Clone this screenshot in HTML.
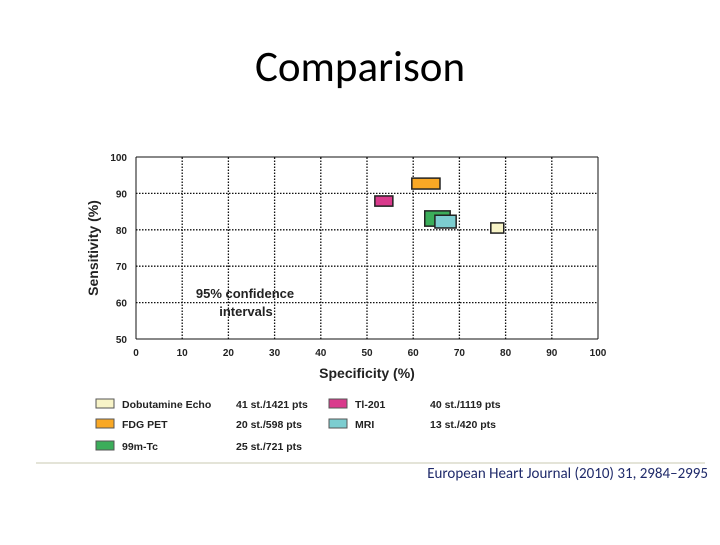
<!DOCTYPE html>
<html><head><meta charset="utf-8"><style>
body{margin:0;background:#fff;width:720px;height:540px;overflow:hidden;font-family:"Liberation Sans",sans-serif}
</style></head><body>
<svg width="720" height="540" xmlns="http://www.w3.org/2000/svg">
<text x="360" y="81" text-anchor="middle" font-size="43" font-family="Carlito,'Liberation Sans',sans-serif">Comparison</text>
<g id="plot"></g>
<line x1="36" y1="463" x2="705" y2="463" stroke="#e4e4d8" stroke-width="2"/>
<text x="708" y="478" text-anchor="end" font-size="15" fill="#1f2a6a" font-family="Carlito,'Liberation Sans',sans-serif">European Heart Journal (2010) 31, 2984–2995</text>
</svg>
<script>
const xTicks=[0,10,20,30,40,50,60,70,80,90,100];
const yTicks=[50,60,70,80,90,100];
const names=["Dobutamine Echo","FDG PET","99m-Tc","Tl-201","MRI"];
const spec0=[76.8,59.7,62.5,51.7,64.7];
const spec1=[79.6,65.8,68.0,55.6,69.3];
const sens0=[79.1,91.2,81.0,86.5,80.5];
const sens1=[81.9,94.2,85.2,89.3,84.0];
const studies=["41 st./1421 pts","20 st./598 pts","25 st./721 pts","40 st./1119 pts","13 st./420 pts"];
const colors=["#f8f4c8","#f9a825","#3bad5a","#d93a8c","#7ccdd0"];
const drawOrder=[1,3,2,4,0];
const NS="http://www.w3.org/2000/svg";
const g=document.getElementById('plot');
const X=v=>136+v*4.62, Y=v=>339-(v-50)*3.64;
function mk(t,a,txt){const e=document.createElementNS(NS,t);for(const k in a)e.setAttribute(k,a[k]);if(txt!==undefined)e.textContent=txt;g.appendChild(e);return e;}
xTicks.forEach(v=>{
 const l=mk('line',{x1:X(v),x2:X(v),y1:Y(50),y2:Y(100),stroke:'#111','stroke-width':v==0||v==100?1:1.3,'stroke-dasharray':v==0||v==100?'':'1.5,1.5'});
 
 const t=mk('text',{x:X(v),y:356,'text-anchor':'middle','font-size':10,'font-weight':'bold',fill:'#222'},v);
 
});
yTicks.forEach(v=>{
 const l=mk('line',{x1:X(0),x2:X(100),y1:Y(v),y2:Y(v),stroke:'#111','stroke-width':v==50||v==100?1:1.3,'stroke-dasharray':v==50||v==100?'':'1.5,1.5'});
 
 const t=mk('text',{x:127,y:Y(v)+4,'text-anchor':'end','font-size':10,'font-weight':'bold',fill:'#222'},v);
 
});
let t=mk('text',{x:367,y:378,'text-anchor':'middle','font-size':14,'font-weight':'bold',fill:'#222'},'Specificity (%)');

t=mk('text',{x:0,y:0,transform:'translate(98,248) rotate(-90)','text-anchor':'middle','font-size':14,'font-weight':'bold',fill:'#222'},'Sensitivity (%)');

t=mk('text',{x:245,y:298,'text-anchor':'middle','font-size':13,'font-weight':'bold',fill:'#222'},'95%  confidence');

t=mk('text',{x:246,y:316,'text-anchor':'middle','font-size':13,'font-weight':'bold',fill:'#222'},'intervals');

drawOrder.forEach(i=>{
 const r=mk('rect',{x:X(spec0[i]),y:Y(sens1[i]),width:X(spec1[i])-X(spec0[i]),height:Y(sens0[i])-Y(sens1[i]),fill:colors[i],stroke:'#222','stroke-width':1.5});
 
});
const lx=[96,96,96,329,329],ly=[404,424,446,404,424],sx=[236,236,236,430,430];
names.forEach((n,i)=>{
 const r=mk('rect',{x:lx[i],y:ly[i]-5,width:18,height:9,fill:colors[i],stroke:'#555','stroke-width':1});
 
 const a=mk('text',{x:lx[i]+26,y:ly[i]+4,'font-size':10.5,'font-weight':'bold',fill:'#222'},n);
 
 const b=mk('text',{x:sx[i],y:ly[i]+4,'font-size':10.5,'font-weight':'bold',fill:'#222'},studies[i]);
 
});
</script>
</body></html>
